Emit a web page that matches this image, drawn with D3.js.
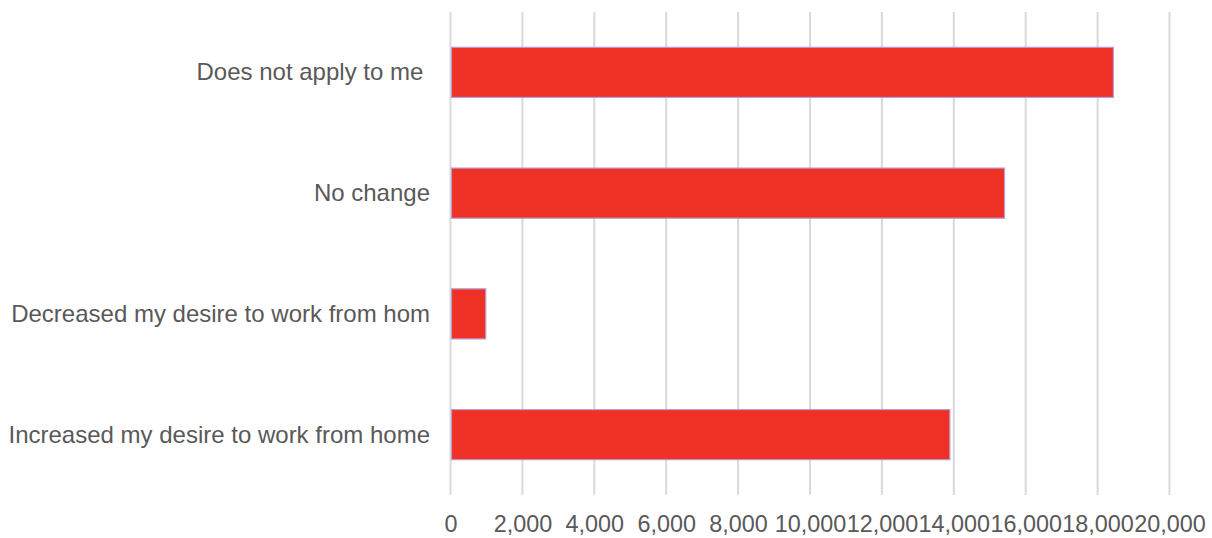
<!DOCTYPE html>
<html>
<head>
<meta charset="utf-8">
<script src="https://cdn.jsdelivr.net/npm/d3@7"></script>
<style>
  html, body { margin: 0; padding: 0; background: #fff; }
  svg { display: block; }
  text { font-family: "Liberation Sans", Arial, sans-serif; fill: #595959; white-space: pre; }
</style>
</head>
<body>
<svg id="chart" width="1212" height="538"></svg>
<script>
const categories = [
  "Does not apply to me ",
  "No change",
  "Decreased my desire to work from hom",
  "Increased my desire to work from home"
];
const values = [18440, 15410, 980, 13890];
const tickValues = [0, 2000, 4000, 6000, 8000, 10000, 12000, 14000, 16000, 18000, 20000];

(function () {
const svg = d3.select("#chart");
const plotLeft = 450.5, plotRight = 1169.5, plotTop = 12, plotBottom = 495;

const x = d3.scaleLinear().domain([0, 20000]).range([plotLeft, plotRight]);
const y = d3.scaleBand().domain(categories).range([plotTop, plotBottom]).paddingInner(0.585).paddingOuter(0.2925);

// gridlines
svg.append("g").selectAll("line").data(tickValues).join("line")
  .attr("x1", d => x(d)).attr("x2", d => x(d))
  .attr("y1", plotTop).attr("y2", plotBottom)
  .attr("stroke", "#d9d9d9").attr("stroke-width", 2);

// bars
svg.append("g").selectAll("rect").data(values).join("rect")
  .attr("x", x(0) + 1)
  .attr("y", (d, i) => y(categories[i]))
  .attr("width", d => x(d) - x(0) - 1)
  .attr("height", y.bandwidth())
  .attr("fill", "#ee3124")
  .attr("stroke", "#b99ad3")
  .attr("stroke-width", 1.2);

// x axis tick labels
const xAxis = d3.axisBottom(x).tickValues(tickValues).tickSize(0).tickPadding(0)
  .tickFormat(d3.format(","));
const gx = svg.append("g").attr("transform", `translate(0, ${plotBottom})`).call(xAxis);
gx.select(".domain").remove();
gx.selectAll("text")
  .attr("y", 0).attr("dy", null)
  .attr("transform", "translate(0, 36.5)")
  .style("font-size", "23.4px")
  .style("font-family", "'Liberation Sans', Arial, sans-serif")
  .attr("fill", "#595959");

// y axis category labels
const yAxis = d3.axisLeft(y).tickSize(0).tickPadding(0);
const gy = svg.append("g").attr("transform", "translate(430, 0)").call(yAxis);
gy.select(".domain").remove();
gy.selectAll("text")
  .attr("x", 0).attr("dy", "0.33em")
  .style("font-size", "24px")
  .style("font-family", "'Liberation Sans', Arial, sans-serif")
  .style("white-space", "pre")
  .attr("fill", "#595959");
})();
</script>
</body>
</html>
